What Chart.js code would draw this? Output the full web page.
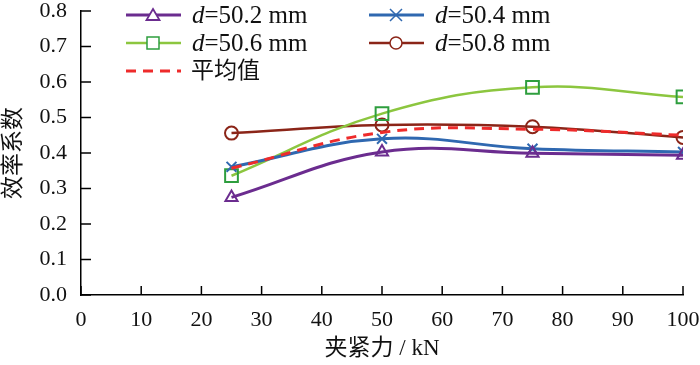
<!DOCTYPE html>
<html><head><meta charset="utf-8">
<script src="https://cdn.jsdelivr.net/npm/chart.js@4/dist/chart.umd.min.js"></script>
<style>
html,body{margin:0;padding:0;background:#fff;}
#wrap{position:relative;width:700px;height:365px;}
#legend{position:absolute;left:0;top:0;width:700px;height:100px;pointer-events:none;font-family:"Liberation Serif","Times New Roman","DejaVu Serif","Noto Sans CJK SC",serif;font-size:25px;color:#111;}
.item{position:absolute;height:28px;line-height:28px;white-space:nowrap;}
.item svg{position:absolute;left:0;top:0;}
.item span{position:absolute;top:0;}
.cjk{font-size:23px;}
</style></head>
<body><div id="wrap"><canvas id="c" width="700" height="365"></canvas><div id="legend"></div></div>
<script>
const clampForce = [25, 50, 75, 100];
const d502 = [0.275, 0.403, 0.399, 0.394];
const d504 = [0.361, 0.440, 0.412, 0.403];
const d506 = [0.336, 0.511, 0.585, 0.558];
const d508 = [0.456, 0.479, 0.474, 0.444];
const average = [0.357, 0.458, 0.467, 0.450];
const seriesLabels = ['d=50.2 mm', 'd=50.4 mm', 'd=50.6 mm', 'd=50.8 mm', '平均值'];
const xTicks = [0,10,20,30,40,50,60,70,80,90,100];
const yTicks = [0,0.1,0.2,0.3,0.4,0.5,0.6,0.7,0.8];
const xTitle = '夹紧力 / kN';
const yTitle = '效率系数';

const toXY = arr => arr.map((v,i)=>({x:clampForce[i], y:v}));
const styles = [
  {line:'#6B2C8F', mark:'#6B2C8F', ps:'triangle', r:7, w:3},
  {line:'#2F68B0', mark:'#2F68B0', ps:'crossRot', r:7, w:3},
  {line:'#8CC63F', mark:'#2E9E3E', ps:'rect', r:9, w:2.5},
  {line:'#8B2518', mark:'#8B2518', ps:'circle', r:6.5, w:2.5},
  {line:'#EE2B2B', mark:'#EE2B2B', ps:false, r:0, w:3, dash:[10,7]}
];
const values = [d502,d504,d506,d508,average];
const datasets = values.map((v,i)=>({
  label: seriesLabels[i],
  data: toXY(v),
  borderColor: styles[i].line,
  borderWidth: styles[i].w,
  borderDash: styles[i].dash || [],
  tension: 0.4,
  pointStyle: styles[i].ps,
  pointRadius: styles[i].r,
  pointBorderColor: styles[i].mark,
  pointBackgroundColor: 'rgba(255,255,255,0)',
  pointBorderWidth: 2,
  order: i===4 ? 0 : 1
}));

const inwardTicks = {
  id:'inwardTicks',
  afterDraw(chart){
    const {ctx, chartArea:a, scales:{x,y}} = chart;
    ctx.save();
    ctx.strokeStyle='#000'; ctx.lineWidth=1.5;
    xTicks.forEach(v=>{const px=x.getPixelForValue(v);ctx.beginPath();ctx.moveTo(px,a.bottom);ctx.lineTo(px,a.bottom-9);ctx.stroke();});
    yTicks.forEach(v=>{const py=y.getPixelForValue(v);ctx.beginPath();ctx.moveTo(a.left,py);ctx.lineTo(a.left+10,py);ctx.stroke();});
    ctx.restore();
  }
};

const serif = '"Liberation Serif", "Times New Roman", "DejaVu Serif", serif';
const tickFont = {family:serif, size:22};
const titleFont = {family:'"Liberation Serif", "Times New Roman", "Noto Sans CJK SC", serif', size:23};

new Chart(document.getElementById('c'), {
  type:'line',
  data:{datasets},
  options:{
    responsive:false, animation:false,
    layout:{padding:{top:7,right:17,left:0,bottom:0}},
    plugins:{legend:{display:false}, tooltip:{enabled:false}},
    scales:{
      x:{type:'linear', min:0, max:100,
        afterBuildTicks(s){s.ticks = xTicks.map(v=>({value:v}));},
        afterFit(s){s.height=70; s.paddingLeft=0; s.paddingRight=0;},
        grid:{display:false, drawTicks:false},
        border:{display:true,color:'#000',width:1.5},
        ticks:{font:tickFont,color:'#111',padding:12,maxRotation:0,autoSkip:false},
        title:{display:true,text:xTitle,font:titleFont,color:'#111',padding:{top:0,bottom:2}}
      },
      y:{type:'linear', min:0, max:0.8,
        afterBuildTicks(s){s.ticks = yTicks.map(v=>({value:v}));},
        afterFit(s){s.width=81; s.paddingTop=0; s.paddingBottom=0;},
        grid:{display:false, drawTicks:false},
        border:{display:true,color:'#000',width:1.5},
        ticks:{font:tickFont,color:'#111',padding:14,callback:v=>Number(v).toFixed(1)},
        title:{display:true,text:yTitle,font:titleFont,color:'#111',padding:{top:0,bottom:2}}
      }
    }
  },
  plugins:[inwardTicks]
});

// HTML legend
const legendPos = [[126,1],[369,1],[126,29],[369,29],[126,57]];
const leg = document.getElementById('legend');
datasets.forEach((ds,i)=>{
  const st = styles[i];
  const [lx,ly] = legendPos[i];
  const div = document.createElement('div');
  div.className='item'; div.style.left=lx+'px'; div.style.top=ly+'px'; div.style.width='220px';
  let mk='';
  const cx=27, cy=14;
  if(st.ps==='triangle') mk=`<polygon points="${cx},${cy-6} ${cx+6.5},${cy+5} ${cx-6.5},${cy+5}" fill="#fff" stroke="${st.mark}" stroke-width="1.8"/>`;
  if(st.ps==='crossRot') mk=`<path d="M${cx-6},${cy-6}L${cx+6},${cy+6}M${cx+6},${cy-6}L${cx-6},${cy+6}" stroke="${st.mark}" stroke-width="1.5"/>`;
  if(st.ps==='rect') mk=`<rect x="${cx-6}" y="${cy-6}" width="12" height="12" fill="#fff" stroke="${st.mark}" stroke-width="1.5"/>`;
  if(st.ps==='circle') mk=`<circle cx="${cx}" cy="${cy}" r="6" fill="#fff" stroke="${st.mark}" stroke-width="1.5"/>`;
  const dash = st.dash ? `stroke-dasharray="10,7"` : '';
  div.innerHTML = `<svg width="56" height="28"><line x1="0" y1="${cy}" x2="55" y2="${cy}" stroke="${st.line}" stroke-width="${st.w}" ${dash}/>${mk}</svg>`;
  const lab = ds.label;
  const txt = lab.startsWith('d=') ? `<i>d</i>${lab.slice(1)}` : lab;
  div.innerHTML += `<span class="${i===4?'cjk':''}" style="left:${i===4?65:66}px">${txt}</span>`;
  leg.appendChild(div);
});
</script></body></html>
